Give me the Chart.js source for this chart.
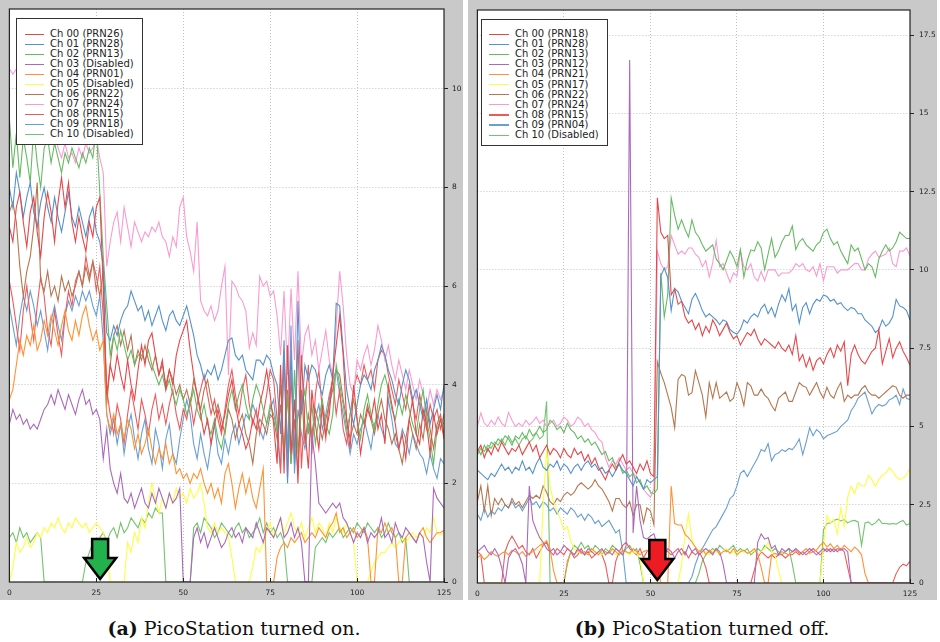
<!DOCTYPE html>
<html><head><meta charset="utf-8">
<script src="https://cdn.jsdelivr.net/npm/chart.js@4.4.1/dist/chart.umd.min.js"></script>
<style>
html,body{margin:0;padding:0;background:#fff;}
body{width:940px;height:642px;position:relative;overflow:hidden;}
.panel{position:absolute;top:0;height:600px;background:#c9c9c9;}
.panel canvas{position:absolute;left:0;top:0;}
.legend{position:absolute;background:#fff;border:1px solid #333;box-sizing:border-box;font:10px 'DejaVu Sans',sans-serif;color:#222;}
.legend .row{position:absolute;height:10px;line-height:10px;white-space:nowrap;}
.legend .sw{position:absolute;height:1.3px;}
.caption{position:absolute;top:616px;font:19px 'DejaVu Serif',serif;line-height:24px;color:#111;white-space:nowrap;transform:translateX(-50%);}
</style>
</head><body>
<div class="panel" id="pa" style="left:0;width:463px;"><canvas id="ca" width="463" height="600"></canvas></div>
<div class="panel" id="pb" style="left:468px;width:469px;"><canvas id="cb" width="469" height="600"></canvas></div>
<div class="caption" style="left:234px;"><b>(a)</b> PicoStation turned on.</div>
<div class="caption" style="left:702px;"><b>(b)</b> PicoStation turned off.</div>
<script>
// ---------- categories / tick labels ----------
const sampleIndex = Array.from({length:126},(_,i)=>i);
const xTickStep = 25;
const yTicksA = [0,2,4,6,8,10];
const yTicksB = [0,2.5,5,7.5,10,12.5,15,17.5];
const yMaxA = 11.62, yMaxB = 18.3;
const arrowAtA = 26.1, arrowAtB = 52.0;

const legendNamesA = ['Ch 00 (PRN26)','Ch 01 (PRN28)','Ch 02 (PRN13)','Ch 03 (Disabled)','Ch 04 (PRN01)','Ch 05 (Disabled)','Ch 06 (PRN22)','Ch 07 (PRN24)','Ch 08 (PRN15)','Ch 09 (PRN18)','Ch 10 (Disabled)'];
const legendNamesB = ['Ch 00 (PRN18)','Ch 01 (PRN28)','Ch 02 (PRN13)','Ch 03 (PRN12)','Ch 04 (PRN21)','Ch 05 (PRN17)','Ch 06 (PRN22)','Ch 07 (PRN24)','Ch 08 (PRN15)','Ch 09 (PRN04)','Ch 10 (Disabled)'];
const channelColors = ['#e8474a','#5592cc','#66bb62','#ab69bb','#ff9233','#fdfd45','#b5764f','#fa9bd0','#ee5a5c','#6a9fd3','#74c270'];

// ---------- panel (a): PicoStation turned on ----------
const a00 = [7.2,6.9,7.6,7.9,7.3,6.8,7.5,7.8,7.1,6.6, 7.4,7.9,7.5,6.9,7.7,8.2,7.6,8.1,7.3,6.9, 7.4,7.0,6.7,7.3,7.0,7.6,7.8,6.0,3.8,4.4, 4.1,4.6,4.2,3.9,4.5,4.0,3.7,4.3,4.8,4.4, 4.9,5.05,4.6,4.2,4.5,3.9,4.3,4.0,4.6,4.9, 5.1,5.3,4.7,4.2,3.8,3.4,3.0,3.3,2.8,3.2, 3.5,3.1,3.4,3.8,4.1,3.6,3.2,3.0,2.7,2.9, 3.3,3.1,3.6,3.9,4.3,3.8,3.2,2.4,4.4,2.2, 4.8,2.6,3.7,2.0,4.6,3.1,2.3,3.9,3.2,2.7, 3.6,3.0,3.4,4.2,4.8,5.4,4.6,3.3,2.7,4.0, 3.3,2.6,3.1,3.5,3.3,3.7,3.1,3.4,2.8,4.0, 3.6,3.2,2.7,3.0,2.5,3.3,3.7,3.0,2.8,3.5, 3.2,2.6,3.4,3.0,3.3,2.9];
const a01 = [8.0,7.6,8.3,7.9,7.4,7.8,8.1,7.5,7.2,7.7, 8.0,7.6,7.3,7.8,7.4,7.1,7.5,7.9,7.4,7.2, 7.6,7.3,7.0,7.4,7.6,7.1,6.9,6.4,5.05,4.9, 5.2,5.0,5.3,5.5,5.6,5.9,5.7,5.5,5.6,5.3, 5.5,5.2,5.4,5.6,5.3,5.1,5.4,5.5,5.3,5.2, 5.4,5.6,5.3,5.0,4.6,4.4,4.1,4.3,4.2,4.4, 4.1,4.3,4.6,4.9,4.95,4.6,4.5,4.6,4.3,4.2, 4.1,4.5,4.5,4.4,4.6,4.5,4.2,4.0,3.0,4.9, 2.0,4.7,2.4,5.7,3.4,4.4,4.1,4.4,4.3,4.0, 3.8,4.2,4.4,4.1,5.65,5.6,4.7,3.9,3.5,3.2, 3.6,4.0,4.2,4.1,3.9,4.3,4.5,4.8,4.6,4.3, 4.1,3.8,3.6,4.0,4.3,4.1,3.7,3.9,3.6,3.3, 3.7,3.2,3.5,3.8,3.5,4.0];
const a02 = [9.4,8.4,9.1,8.2,9.0,8.6,8.1,9.2,8.5,8.0, 8.8,9.0,8.5,8.9,8.6,8.3,8.7,8.5,8.8,8.6, 8.4,8.7,8.5,8.8,8.6,9.2,7.9,6.6,5.6,4.6, 5.0,4.7,5.1,4.8,4.5,4.7,4.4,4.6,4.6,4.5, 4.7,4.4,4.2,4.0,4.2,3.9,4.1,3.8,3.6,3.9, 3.7,3.4,3.6,3.9,3.5,3.3,3.6,3.2,3.0,3.3, 2.9,2.7,3.1,3.6,3.9,3.5,3.8,4.0,3.6,3.3, 3.7,4.0,3.8,3.5,3.2,3.6,3.4,3.1,4.0,2.5, 3.8,2.4,4.3,2.6,3.5,3.9,3.0,3.6,2.8,3.3, 3.7,3.2,3.0,3.4,4.4,4.0,3.6,3.1,3.4,3.7, 3.3,2.9,3.5,3.8,3.4,3.1,3.6,4.0,4.2,3.9, 3.5,3.3,3.7,3.4,3.8,3.5,3.2,3.0,3.5,3.9, 3.3,2.9,2.4,3.1,3.3,3.2];
const a03 = [3.2,3.5,3.3,3.4,3.2,3.3,3.1,3.2,3.1,3.3, 3.5,3.6,3.8,3.6,3.9,3.7,3.5,3.8,3.6,3.4, 3.7,3.9,3.6,3.7,3.4,3.5,3.3,2.5,3.1,2.3, 2.0,1.8,2.2,1.7,1.6,1.8,1.5,1.7,1.9,1.6, 1.5,1.8,1.6,1.9,1.7,1.5,1.8,1.6,1.7,1.9, 0,0,0,0.9,1.1,0.8,1.0,0.7,0.9,1.1, 0.9,0.7,0.8,1.0,1.1,0.9,1.0,0.8,1.1,1.0, 0.9,1.2,1.0,0.8,1.1,1.0,0.9,1.1,1.3,0.9, 1.0,1.2,0.9,1.1,0.8,0,0,3.0,2.4,1.6, 1.5,1.4,1.5,1.6,1.5,1.6,1.3,1.2,1.0,0.8, 1.0,0.9,1.1,0.8,1.0,0.9,1.0,1.3,0.9,1.0, 0.8,1.2,1.0,0.9,1.1,1.0,0.9,0.8,1.0,0.9, 0.4,0,1.9,1.7,1.6,1.5];
const a04 = [3.7,3.9,4.4,4.9,4.6,5.0,4.8,5.2,4.7,4.9, 5.3,5.0,5.4,5.1,4.8,5.2,5.5,5.1,4.9,5.3, 5.0,5.4,5.6,5.2,4.9,5.1,4.7,4.9,3.4,3.1, 3.4,3.0,3.2,2.9,3.3,3.1,2.7,3.0,2.6,2.8, 3.1,2.7,2.4,2.7,2.5,2.8,2.4,2.6,2.2,2.3, 2.1,2.2,2.0,2.2,2.1,2.3,2.0,1.8,2.0,1.7, 1.9,1.6,2.2,2.4,2.0,1.5,1.9,2.2,1.8,2.1, 1.7,1.5,1.9,2.3,0,0,0,0.5,0.7,0.8, 0.7,0.9,0.8,0.9,1.0,0.8,0.9,1.0,0.9,1.1, 1.0,0.9,1.1,1.2,1.4,1.0,1.1,0.9,1.0,1.1, 0.9,1.0,1.1,0.9,0,0,1.1,1.0,1.2,1.0, 1.1,0.9,0,0,0.9,1.0,0.9,0.8,1.0,1.1, 0.9,0.8,0.9,1.0,1.0,1.05];
const a05 = [0,0.3,0.8,0.6,0.7,0.9,0.7,0.8,1.0,0.9, 1.1,1.0,1.2,1.1,1.3,1.1,1.0,1.2,1.1,1.3, 1.2,1.1,1.2,1.0,1.1,1.2,1.1,1.0,0.7,0, 0,0,0,0,0.8,0.6,1.0,0.8,1.3,1.1, 1.6,2.0,1.7,1.4,1.7,1.5,1.8,1.6,1.9,1.7, 1.8,1.6,1.9,1.7,1.8,2.0,1.6,1.1,1.0,1.2, 1.0,1.1,1.0,0.9,0.5,0,0,0,0,0, 0.3,0.7,0.6,0.8,1.0,1.2,0.9,1.1,1.3,1.0, 1.2,1.4,1.1,1.0,1.2,0.9,1.1,1.3,1.0,1.2, 1.1,0.9,1.2,1.0,1.3,1.1,1.0,1.2,1.0,0.8, 0,0,0,0,0.2,0.4,0.5,0.6,0.6,0.7, 0.8,0.7,0.8,0.9,0.8,0.9,1.0,0.9,1.0,0.9, 1.1,1.0,1.3,1.0,0.95,1.0];
const a06 = [7.5,7.7,7.3,6.4,5.8,6.3,6.6,7.2,8.1,6.1, 5.9,6.3,5.8,6.0,5.7,6.2,5.9,6.1,5.8,6.0, 6.3,6.0,6.4,6.1,6.5,6.2,5.8,6.3,3.6,4.4, 5.0,5.2,4.8,5.1,4.7,5.0,4.4,4.7,4.5,4.8, 4.5,4.3,4.6,4.2,4.4,4.0,4.3,4.1,3.8,4.0, 3.7,3.9,3.6,4.1,3.8,3.5,3.9,4.1,3.7,3.4, 3.6,3.3,3.0,3.5,3.3,2.9,3.2,3.4,3.0,2.8, 2.4,3.0,3.3,3.2,3.0,3.4,3.3,2.9,3.6,2.6, 3.9,2.4,3.3,2.2,3.9,2.8,3.4,3.0,3.5,3.2, 2.9,3.3,3.6,3.9,4.3,4.2,3.7,3.3,2.9,3.2, 3.0,3.4,3.2,3.6,3.3,3.0,3.4,3.7,3.3,3.1, 2.8,3.0,2.7,2.4,2.9,3.3,3.0,2.7,3.2,2.9, 3.5,3.1,2.7,3.2,3.4,3.0];
const a07 = [10.4,10.3,10.4,10.2,10.3,10.0,9.6,9.8,9.4,9.7, 9.2,9.5,9.0,9.2,8.8,8.6,8.9,8.6,8.7,8.5, 8.8,8.6,8.9,8.7,8.8,9.0,8.6,8.3,6.4,6.9, 7.3,7.5,6.9,7.6,7.2,6.8,7.3,7.1,6.9,7.1, 7.0,7.2,7.1,7.3,7.0,6.9,6.6,7.0,6.8,7.6, 7.8,7.0,6.7,6.3,7.3,5.7,5.5,5.4,5.6,5.3, 5.5,6.0,6.4,4.2,6.1,6.0,5.8,5.7,5.5,4.75, 5.05,4.8,6.2,6.0,6.1,5.8,5.9,5.4,4.6,5.9, 4.2,5.95,4.5,6.3,4.4,5.0,5.2,4.6,4.9,4.3, 4.7,5.1,4.5,4.2,5.2,6.3,5.6,4.6,4.0,3.8, 4.5,4.3,4.6,4.8,4.4,4.7,5.2,4.9,4.5,4.8, 4.4,4.1,4.5,4.2,3.9,4.3,4.0,3.7,4.1,3.8, 3.5,3.9,3.6,3.9,3.7,3.9];
const a08 = [6.1,5.7,5.2,4.7,5.5,6.0,5.4,4.9,5.6,6.2, 5.8,5.1,4.8,5.5,5.0,4.6,5.4,5.9,5.6,6.1, 6.3,6.0,6.6,6.2,6.5,5.9,6.4,5.4,3.9,3.4, 3.0,3.6,3.3,2.8,3.4,3.9,3.5,3.1,3.7,3.4, 3.0,3.5,3.8,3.3,3.6,3.2,3.6,3.9,3.4,3.1, 3.5,3.3,3.7,3.2,3.6,3.9,4.2,3.8,3.4,3.7, 3.3,3.0,3.5,4.0,4.3,3.8,3.4,3.9,4.2,3.6, 3.2,3.5,3.0,3.4,3.8,4.3,4.1,3.3,2.2,4.6, 2.1,4.2,2.5,4.9,2.3,3.6,4.4,2.6,3.8,4.3, 3.5,2.9,3.7,4.1,3.4,3.9,3.1,2.8,3.4,3.9, 4.2,4.0,4.4,4.1,4.3,3.9,4.5,4.7,4.6,4.2, 3.9,3.6,4.1,3.8,3.5,4.0,3.6,3.3,3.8,3.4, 3.1,3.6,3.3,3.5,3.1,3.4];
const a09 = [5.6,5.2,4.8,5.4,5.8,5.5,5.9,5.6,5.2,5.5, 5.1,4.7,5.3,5.6,5.2,4.9,5.4,5.7,5.5,5.8, 5.6,5.9,5.7,5.9,5.6,5.4,5.8,4.9,3.4,3.0, 3.3,2.8,3.2,2.6,3.1,3.4,2.9,2.5,3.0,3.3, 2.7,2.4,3.1,2.8,2.3,2.9,3.2,2.6,2.4,2.9, 3.3,3.7,3.4,2.8,2.5,3.0,2.6,2.3,2.8,3.2, 2.6,2.4,2.9,2.6,3.0,3.2,2.8,3.1,3.4,3.3, 3.6,3.4,3.1,2.9,3.2,3.5,3.7,3.0,2.3,4.7, 2.6,5.2,2.2,3.5,3.0,2.7,3.2,2.9,3.3,3.6, 3.1,3.4,3.8,4.1,4.3,3.8,3.4,3.0,2.6,3.0, 2.8,3.1,3.3,3.0,2.7,3.2,3.4,3.1,2.9,3.7, 3.3,2.8,2.7,3.1,2.9,2.6,3.0,2.8,2.6,2.5, 2.2,2.6,2.3,2.1,2.5,2.4];
const a10 = [0.9,1.0,0.8,1.1,0.9,1.0,0.8,0.9,1.0,0.9, 0,0,0,0,0,0,0,0,0,0, 0,0,0.4,0.6,0.8,0.7,0.9,1.0,0.8,1.0, 1.1,0.9,1.2,1.0,1.1,1.3,1.2,1.1,1.3,1.2, 1.4,1.3,1.5,1.4,1.4,0,0,0,0,0, 0,0,0,1.1,1.2,1.0,1.3,1.2,1.1,0.9, 1.0,1.2,1.1,1.0,0.9,1.1,1.2,1.0,1.1,0.9, 1.0,1.1,1.3,1.0,1.2,1.0,1.1,0.9,1.0,0.8, 0,0,0,0,0,0,0,0,0.7,0.8, 0.9,0.8,1.0,0.9,1.0,1.1,0.9,1.0,1.1,1.0, 1.2,1.1,1.0,1.2,1.1,1.0,1.1,0.9,1.0,1.2, 1.0,0.9,1.0,0.8,0.9,0,0,0,0,0, 0,0,0,0,0,0];

// ---------- panel (b): PicoStation turned off ----------
const b00 = [4.2,4.4,4.0,4.3,4.1,4.4,4.2,4.5,4.3,4.1, 4.3,4.2,4.4,4.1,4.3,4.5,4.2,4.4,4.0,4.2, 4.4,4.1,4.3,4.2,4.0,4.3,4.1,4.0,4.3,4.1, 4.2,3.9,4.1,3.8,4.0,3.7,3.5,3.3,3.6,3.8, 3.6,3.9,4.1,3.8,3.9,3.7,3.5,3.8,3.6,3.9, 3.5,3.4,12.3,11.2,11.0,11.1,9.2,9.4,8.9,9.0, 8.5,8.3,8.4,8.1,8.3,7.9,8.2,8.0,8.4,8.2, 7.9,8.1,8.3,8.0,7.8,7.9,7.6,7.8,8.0,7.9, 8.1,7.8,7.6,7.8,7.7,7.6,7.5,7.7,7.5,7.4, 7.6,7.3,7.9,7.1,7.3,6.9,7.2,6.8,7.1,7.2, 7.0,7.3,7.5,7.2,7.6,7.4,7.7,6.3,7.3,7.6, 7.3,7.1,7.0,7.2,7.4,7.5,8.1,7.0,7.4,7.8, 7.2,7.5,7.7,7.4,7.2,6.95];
const b01 = [3.6,3.5,3.4,3.3,3.5,3.4,3.6,3.8,3.6,3.7, 3.5,3.7,3.6,3.9,3.6,3.7,3.5,3.8,4.0,3.7, 3.6,3.8,3.7,3.9,3.6,3.8,3.7,3.5,3.7,3.8, 3.6,3.8,3.9,3.7,3.8,3.6,3.7,3.5,3.6,3.4, 3.6,3.8,3.6,3.5,3.3,3.1,3.4,3.2,3.0,3.3, 3.2,3.3,3.4,9.8,10.06,9.75,8.7,9.4,9.3,9.0, 8.8,8.6,9.06,9.25,9.0,8.7,8.5,8.6,8.5,8.4, 8.25,8.4,8.35,8.1,8.0,7.95,8.1,8.4,8.3,8.5, 8.6,8.5,8.77,8.9,8.6,8.8,8.5,8.9,9.2,9.0, 9.4,8.7,8.9,8.3,8.8,8.95,8.6,8.9,9.06,9.0, 9.2,9.15,9.0,9.06,8.9,8.95,8.8,8.7,8.8,8.75, 8.6,8.6,8.4,8.3,8.2,8.0,8.1,8.4,8.2,8.3, 8.5,9.06,8.85,8.8,8.7,8.4];
const b02 = [4.3,4.1,4.4,4.2,4.5,4.4,4.6,4.5,4.7,4.6, 4.4,4.7,4.6,4.8,4.6,4.9,4.7,4.8,5.0,4.8, 4.9,5.2,5.1,4.9,5.0,4.8,5.1,4.9,4.8,4.6, 4.7,4.5,4.6,4.4,4.5,4.3,4.1,4.2,3.9,4.0, 3.7,3.8,3.5,3.6,3.4,3.5,3.2,3.3,3.0,3.1, 2.9,2.85,3.0,9.9,8.5,9.2,12.3,11.75,11.3,11.6, 11.3,11.05,11.6,11.2,11.05,10.8,10.6,10.7,10.8,10.35, 10.2,10.0,10.3,10.6,10.4,10.1,10.65,9.77,10.3,10.64, 10.6,10.9,10.7,10.0,10.5,11.0,10.4,10.6,10.9,11.1, 11.1,11.4,10.65,10.9,11.0,10.8,10.7,10.6,10.8,10.9, 11.2,11.3,11.0,10.8,10.9,10.6,10.4,10.2,10.8,10.6, 10.7,10.35,10.0,10.2,10.1,9.77,10.35,10.6,10.8,10.6, 10.7,10.9,11.2,11.1,11.0,11.0];
const b03 = [1.0,1.1,1.2,1.0,0.9,1.1,0.9,0.5,0,0.8, 1.0,1.1,0.9,0.6,0,3.1,2.0,1.7,1.45,1.3, 1.1,1.0,1.1,0.9,1.0,1.2,1.1,1.0,0.9,1.1, 1.0,0.9,1.1,1.0,0.9,1.0,1.1,0.9,1.0,0.9, 1.1,1.0,0.9,1.2,16.7,1.6,3.1,2.0,1.45,1.4, 1.5,1.57,1.2,1.0,0.9,1.1,1.0,0.8,1.0,1.1, 0.9,1.2,1.0,1.1,0.9,1.0,1.1,1.0,0.9,1.1, 1.0,0.6,0,0,0,0,0,0,0,0, 0,1.3,1.57,1.4,1.45,1.1,1.2,0.9,1.1,1.0, 1.1,1.0,1.1,1.0,0.9,1.0,1.1,1.0,0.9,1.0, 1.1,1.0,1.1,1.0,1.1,1.05,1.1,1.0,0,0, 0,0,0,0,0,0,0,0,0,0, 0,0,0,0,0,0];
const b04 = [0.8,0.9,0.75,0.85,1.0,0.9,0.85,0.95,1.0,0.9, 1.05,1.0,0.9,1.0,0.85,0.95,1.0,1.1,1.2,1.25, 1.35,1.1,0.4,0,0,0,0.7,1.0,0.9,1.05, 0.95,1.0,0.9,1.1,1.0,0.9,1.05,1.0,0.95,1.1, 1.0,0.9,1.05,1.0,0.95,1.1,1.0,0.9,1.0,1.05, 0.95,1.0,0.6,0,0,0,3.1,1.9,1.85,1.85, 1.55,1.45,1.3,1.15,1.0,1.1,0.9,1.05,0.95,1.1, 0.9,1.0,1.05,0.95,1.1,0.9,1.0,1.05,0.95,1.0, 1.1,0.9,0.5,0,0,0.9,0.95,0.9,1.0,0.95, 0.9,1.0,1.05,0.95,1.0,1.1,0.95,1.0,1.05,1.2, 1.3,1.15,1.25,1.1,1.2,1.05,1.2,1.1,1.0,1.15, 1.05,0.9,0.3,0,0,0,0,0,0,0, 0,0,0,0,0,0];
const b05 = [0,0,0,0,0,0,0,0,0,0, 0,0,0,0,0,0,0,0,0,2.5, 4.26,3.09,2.6,2.3,2.04,1.7,1.8,1.33,1.1,1.0, 0.95,1.0,0.9,1.05,0.95,1.0,0.9,1.0,0.95,1.05, 0.9,1.0,0.95,1.0,0.9,1.0,0.95,0.8,0,0, 0,0,0,0,0,0,0,0,0,0.6, 1.5,2.2,1.4,1.1,1.0,0.95,1.0,0.9,1.05,1.0, 0.9,1.0,1.1,0.95,1.0,0.9,1.05,1.0,0.95,1.0, 1.05,0.9,1.0,1.1,1.3,1.0,0.9,0.4,0,0, 0,0,0,0,0,0,0,0,0,0, 1.2,2.15,1.92,2.04,1.57,2.39,1.8,2.74,3.09,2.86, 3.2,3.1,3.1,3.44,3.3,3.09,3.3,3.44,3.5,3.68, 3.56,3.4,3.3,3.35,3.45,3.68];
const b06 = [2.6,3.1,2.3,3.1,2.15,2.7,2.5,2.7,2.5,2.4, 2.7,2.5,2.6,2.4,2.6,2.8,2.7,2.8,2.7,3.1, 2.9,2.6,2.5,2.7,2.6,2.8,2.9,2.8,2.9,3.1, 3.2,3.1,3.0,3.1,3.3,3.1,3.0,2.8,2.6,2.3, 2.7,2.7,2.5,2.4,2.6,2.15,2.5,2.5,1.92,2.4, 2.3,1.86,7.07,6.7,6.4,6.0,5.6,4.96,6.5,6.66, 6.6,6.0,6.08,6.78,6.4,6.0,5.3,6.4,5.9,6.4, 5.9,6.0,6.1,5.8,5.9,6.4,6.1,5.67,6.4,6.3, 6.0,6.0,6.2,6.0,5.9,5.67,5.5,5.9,6.0,6.1, 5.8,5.8,6.1,6.4,6.3,6.25,6.0,6.2,6.4,6.1, 5.9,6.25,6.0,5.9,6.2,6.4,5.8,6.0,5.9,6.0, 6.0,6.2,6.3,6.1,6.0,6.0,5.9,6.0,6.1,6.2, 6.3,6.25,6.0,5.9,6.0,6.0];
const b07 = [5.0,5.43,5.1,5.0,5.2,5.05,5.3,5.1,5.0,5.45, 5.2,5.0,5.1,5.0,5.2,5.05,5.15,5.3,5.1,5.2, 5.0,5.1,5.2,5.0,5.1,5.3,5.2,5.0,5.1,5.3, 5.2,5.0,5.1,4.9,4.8,4.6,4.5,4.0,3.7,3.9, 3.8,4.0,3.8,3.6,3.7,3.5,3.4,3.2,3.0,2.85, 2.74,3.0,10.6,10.2,10.0,10.1,11.1,10.8,10.5,10.6, 10.5,10.7,10.7,10.5,10.4,10.1,10.3,9.77,10.23,10.94, 10.1,10.2,9.9,9.6,9.9,9.8,10.6,10.1,10.0,10.2, 9.77,9.65,9.95,9.65,10.0,10.0,10.0,9.8,9.9,9.9, 9.9,10.0,10.2,10.1,10.2,10.0,9.95,10.1,9.8,10.2, 9.65,10.1,10.1,10.1,9.9,10.0,10.0,10.0,10.1,10.2, 10.2,10.0,10.0,10.35,10.5,10.6,10.4,10.45,10.5,10.7, 10.2,10.1,10.6,10.6,10.7,10.45];
const b08 = [1.0,0.9,0,0,0,0,0,0,1.0,1.3, 1.5,1.3,1.1,1.2,1.0,0.9,1.1,0.8,1.0,1.2, 1.3,1.0,0.9,1.1,1.0,0.9,1.1,1.0,0.8,0.9, 1.1,0.9,1.0,0.8,0.9,1.0,0.9,0.6,0,0, 0.7,1.0,1.2,1.3,1.1,1.0,0.9,1.1,0.8,1.0, 1.1,0.9,1.0,0.8,1.1,1.0,0.9,1.0,1.1,0.9, 1.0,0.8,1.0,0.9,1.0,0.8,0.5,0,0,0, 0,0,0,0,0,0,0,0,0,0, 0.4,0.8,1.0,0.9,0.8,0.9,0.8,0.9,0.9,0.8, 0.9,0.9,1.0,0.9,1.0,0.9,1.0,1.1,1.0,0.9, 1.0,1.1,1.0,1.1,1.0,1.1,1.0,0.5,0,0, 0,0,0,0,0,0,0,0,0,0, 0,0.3,0.5,0.6,0.55,0.7];
const b09 = [2.2,2.0,2.4,2.1,2.3,2.2,2.4,2.3,2.5,2.4, 2.6,2.4,2.5,2.3,2.5,2.7,2.5,2.6,2.4,2.6, 2.5,2.3,2.4,2.2,2.4,2.3,2.2,2.4,2.3,2.1, 2.2,2.0,2.2,2.1,1.9,2.0,1.8,1.9,2.0,1.8, 1.6,1.7,1.0,0,0,0,0,0,0,0, 0,0,0,0,0,0,0,0,0,0, 0,0,0.2,0.6,0.9,1.1,1.3,1.5,1.7,1.8, 2.0,2.2,2.4,2.7,2.8,3.1,3.5,3.6,3.4,3.6, 3.8,4.0,4.26,4.2,4.45,3.9,4.1,4.15,4.26,4.2, 4.3,4.26,4.4,4.6,4.1,4.5,4.96,4.7,4.9,4.8, 4.6,4.7,4.75,4.8,4.85,5.0,5.1,5.2,5.5,5.67, 5.9,6.0,6.1,5.75,5.4,5.6,5.7,5.65,5.7,5.85, 5.9,6.0,5.7,6.2,5.9,5.85];
const b10 = [4.1,4.3,4.2,4.4,4.3,4.5,4.4,4.6,4.4,4.7, 4.5,4.6,4.4,4.6,4.7,4.5,4.6,4.8,4.6,4.7, 5.8,0,0,0,0,0,0.6,1.0,1.2,1.1, 1.3,1.1,1.2,1.0,1.2,1.1,0.9,1.1,1.0,1.2, 1.1,1.0,0.9,1.1,1.2,1.0,1.1,0.6,0,0, 0,0,0,0,0,0,0,0,0,0, 0,0,0,0,0.3,0.7,0.9,1.0,1.1,1.0, 1.2,1.1,1.0,1.1,1.2,1.0,1.1,1.0,1.1,0.9, 1.0,1.1,1.0,1.2,1.1,1.0,1.1,1.0,0.9,1.0, 1.1,0.6,0,0,0,0,0,0,0,0, 1.7,1.9,1.92,2.0,2.04,1.98,2.02,1.92,1.98,2.0, 1.95,1.2,1.92,1.95,1.85,1.92,2.04,1.9,1.9,1.88, 1.9,1.88,1.95,2.0,1.85,1.9];

const seriesA = [a00,a01,a02,a03,a04,a05,a06,a07,a08,a09,a10];
const seriesB = [b00,b01,b02,b03,b04,b05,b06,b07,b08,b09,b10];

// ---------- drawing ----------
const tickFont = {family:'DejaVu Sans', size:7.5};
const gridColor = '#c2c2c2';

const framePlugin = {
  id:'frame',
  beforeDraw(chart){
    const {ctx, chartArea:a, width, height} = chart;
    ctx.save();
    ctx.fillStyle = '#c9c9c9'; ctx.fillRect(0,0,width,height);
    ctx.fillStyle = '#ffffff'; ctx.fillRect(a.left,a.top,a.right-a.left,a.bottom-a.top);
    ctx.restore();
  },
  afterDraw(chart, args, opts){
    const {ctx, chartArea:a, scales} = chart;
    ctx.save();
    ctx.strokeStyle = '#222'; ctx.lineWidth = 1.2;
    ctx.strokeRect(a.left, a.top, a.right-a.left, a.bottom-a.top);
    ctx.lineWidth = 1;
    scales.x.ticks.forEach(t => {
      const px = Math.round(scales.x.getPixelForValue(t.value)) + 0.5;
      ctx.beginPath(); ctx.moveTo(px, a.bottom); ctx.lineTo(px, a.bottom - 4); ctx.stroke();
    });
    // arrow marker
    const tx = scales.x.getPixelForValue(opts.arrowAt), ty = a.bottom - 3;
    ctx.beginPath();
    ctx.moveTo(tx, ty);
    ctx.lineTo(tx-16, ty-21); ctx.lineTo(tx-8, ty-21); ctx.lineTo(tx-8, ty-40);
    ctx.lineTo(tx+8, ty-40); ctx.lineTo(tx+8, ty-21); ctx.lineTo(tx+16, ty-21);
    ctx.closePath();
    ctx.fillStyle = opts.arrowFill; ctx.fill();
    ctx.lineWidth = 2.5; ctx.strokeStyle = '#000'; ctx.lineJoin = 'miter'; ctx.stroke();
    ctx.restore();
  }
};

function makeChart(canvasId, panelId, names, series, yTicks, yMax, arrowAt, arrowFill, geom){
  const datasets = series.map((vals, k) => ({
    label: names[k],
    data: vals.map((v, i) => ({x: sampleIndex[i], y: v})),
    borderColor: channelColors[k],
    backgroundColor: channelColors[k],
    borderWidth: 1.1, pointRadius: 0, tension: 0, fill: false
  }));
  const chart = new Chart(document.getElementById(canvasId), {
    type:'line',
    data:{datasets},
    plugins:[framePlugin],
    options:{
      responsive:false, animation:false, devicePixelRatio:1,
      layout:{padding:{left:geom.left, top:geom.top, right:0, bottom:0}},
      plugins:{legend:{display:false}, tooltip:{enabled:false}, frame:{arrowAt, arrowFill}},
      scales:{
        x:{type:'linear', min:0, max:125,
           ticks:{stepSize:xTickStep, font:tickFont, color:'#222', padding:7, maxRotation:0, autoSkip:false},
           grid:{color:gridColor, drawTicks:false},
           border:{display:false, dash:[1,2]},
           afterFit: s => { s.height = geom.xh; }},
        y:{type:'linear', position:'right', min:0, max:yMax,
           afterBuildTicks: s => { s.ticks = yTicks.map(v => ({value:v})); },
           ticks:{font:tickFont, color:'#222', padding:geom.ypad, callback: v => String(v)},
           grid:{color:gridColor, tickColor:'#222', tickLength:4, tickBorderDash:[]},
           border:{display:false, dash:[1,2]},
           afterFit: s => { s.width = geom.yw; }}
      }
    }
  });
  // legend box built from the chart's datasets
  const box = document.createElement('div');
  box.className = 'legend';
  box.style.left = geom.lg.left + 'px'; box.style.top = geom.lg.top + 'px';
  box.style.width = geom.lg.w + 'px'; box.style.height = geom.lg.h + 'px';
  chart.data.datasets.forEach((ds, k) => {
    const row = document.createElement('div');
    row.className = 'row';
    row.style.top = (geom.lg.rowTop + k*geom.lg.rowStep) + 'px';
    row.style.left = '0px';
    const sw = document.createElement('div');
    sw.className = 'sw';
    sw.style.left = geom.lg.swLeft + 'px'; sw.style.width = geom.lg.swW + 'px'; sw.style.top = '4.5px';
    sw.style.background = ds.borderColor;
    const tx = document.createElement('span');
    tx.style.position = 'absolute'; tx.style.left = geom.lg.txLeft + 'px';
    tx.textContent = ds.label;
    row.appendChild(sw); row.appendChild(tx);
    box.appendChild(row);
  });
  document.getElementById(panelId).appendChild(box);
  return chart;
}

makeChart('ca','pa', legendNamesA, seriesA, yTicksA, yMaxA, arrowAtA, '#22b14c',
  {left:7.5, top:9, xh:18, yw:19, ypad:4,
   lg:{left:16, top:18, w:127, h:127, rowTop:10, rowStep:10, swLeft:8, swW:19, txLeft:33}});
makeChart('cb','pb', legendNamesB, seriesB, yTicksB, yMaxB, arrowAtB, '#ed1c24',
  {left:5.5, top:10, xh:17, yw:27, ypad:5,
   lg:{left:13, top:19, w:127, h:127, rowTop:9, rowStep:10.1, swLeft:7, swW:20, txLeft:33}});
</script>
</body></html>
